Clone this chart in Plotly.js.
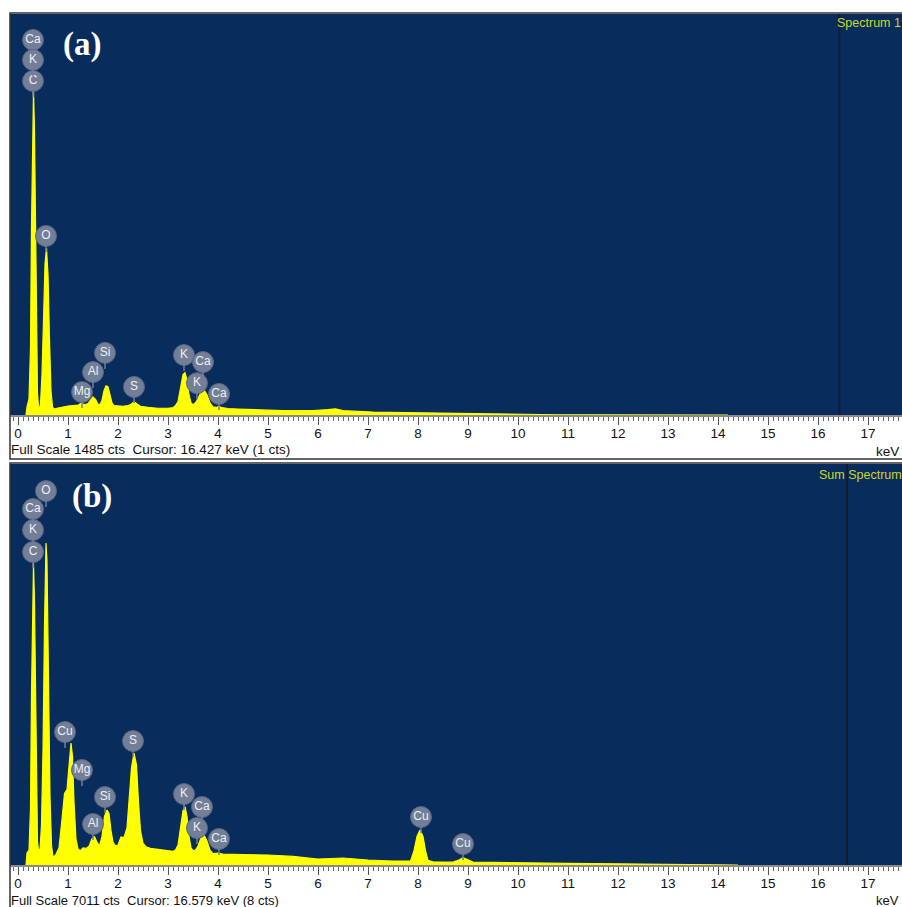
<!DOCTYPE html>
<html><head><meta charset="utf-8">
<script src="https://cdn.plot.ly/plotly-3.0.1.min.js"></script>
<style>html,body{margin:0;padding:0;background:#fff}#chart{width:902px;height:907px}</style>
</head><body><div id="chart"></div>
<script>
// ---------- DATA ----------
const energyA = [
  0.16,0.18,0.22,0.25,0.27,0.29,0.31,0.33,0.35,0.37,
  0.39,0.41,0.43,0.45,0.48,0.51,0.54,0.57,0.60,0.63,
  0.66,0.69,0.72,0.8,0.9,1.0,1.1,1.2,1.27,1.33,
  1.40,1.45,1.50,1.55,1.60,1.64,1.68,1.72,1.76,1.80,
  1.84,1.88,1.92,2.0,2.1,2.2,2.26,2.32,2.38,2.45,
  2.6,2.8,3.0,3.1,3.15,3.20,3.25,3.30,3.34,3.38,
  3.42,3.46,3.50,3.55,3.60,3.66,3.72,3.78,3.84,3.90,
  3.96,4.02,4.08,4.2,4.4,4.6,4.8,5.0,5.3,5.6,
  5.9,6.2,6.35,6.5,6.8,7.1,7.4,7.7,8.0,8.3,
  8.6,8.9,9.2,9.5,9.8,10.2,10.8,11.5,12.5,14,
  14.2];
const countsA = [
  0,30,60,250,700,1100,1203,1050,650,250,
  80,30,25,40,150,350,560,618,520,280,
  90,30,22,26,30,33,35,37,44,38,
  42,55,67,58,40,38,55,90,108,105,
  75,45,35,33,32,35,40,49,40,32,
  28,25,25,27,35,50,100,150,157,130,
  75,45,38,45,60,85,93,75,45,30,
  28,32,27,24,22,20,19,18,16,15,
  16,20,23,16,13,11,10,9,10,8,
  7,6,5,4,3,2,1,0.5,0.3,0.3,
  0];

const energyB = [
  0.16,0.18,0.22,0.25,0.27,0.29,0.31,0.33,0.35,0.37,
  0.39,0.41,0.44,0.47,0.50,0.53,0.56,0.58,0.61,0.64,
  0.67,0.70,0.75,0.82,0.88,0.93,0.98,1.02,1.06,1.09,
  1.12,1.16,1.20,1.25,1.30,1.36,1.42,1.48,1.53,1.58,
  1.63,1.68,1.73,1.78,1.82,1.86,1.90,1.95,2.00,2.06,
  2.12,2.18,2.22,2.27,2.32,2.37,2.41,2.45,2.50,2.56,
  2.65,2.8,3.0,3.1,3.15,3.20,3.25,3.30,3.34,3.38,
  3.42,3.46,3.50,3.55,3.60,3.66,3.72,3.78,3.84,3.90,
  4.0,4.1,4.5,5.0,5.5,6.0,6.5,7.0,7.5,7.85,
  7.92,7.98,8.04,8.10,8.15,8.20,8.3,8.5,8.7,8.8,
  8.9,9.0,9.1,9.5,10,10.5,11,11.5,12,12.5,
  13,13.5,14,14.2,14.4];
const countsB = [
  0,210,260,1000,3000,4800,5280,4600,2800,1100,
  400,270,262,700,2000,4200,5630,5300,3200,1200,
  350,140,170,300,800,1250,1320,1700,2133,1900,
  1100,450,280,250,300,290,330,460,495,400,
  330,500,850,962,900,600,400,330,350,490,
  480,650,1100,1700,1958,1750,1100,600,380,320,
  290,270,250,240,260,350,650,950,1019,850,
  500,300,250,260,330,480,525,420,260,200,
  210,190,180,175,150,105,122,87,70,70,
  250,500,612,500,250,80,55,50,50,80,
  128,90,50,45,35,30,28,25,20,15,
  12,10,8,5,0];

const labelNamesA  = ['Ca','K','C','O','Mg','Al','Si','S','K','Ca','K','Ca'];
const labelEnergyA = [0.30,0.30,0.30,0.56,1.28,1.50,1.74,2.32,3.32,3.70,3.58,4.02];
const labelCountsA = [1389,1315,1237,663,85,159,230,104,222,196,118,78];

const labelNamesB  = ['O','Ca','K','C','Cu','Mg','Al','Si','S','K','Ca','K','Ca','Cu','Cu'];
const labelEnergyB = [0.56,0.30,0.30,0.30,0.94,1.28,1.50,1.74,2.30,3.32,3.68,3.58,4.02,8.06,8.90];
const labelCountsB = [6539,6224,5857,5472,2325,1661,717,1189,2168,1241,1014,647,455,839,367];

const fullScaleA = 1485, cursorA = 16.427, cursorCtsA = 1;
const fullScaleB = 7011, cursorB = 16.579, cursorCtsB = 8;
const spectrumNameA = 'Spectrum 1', spectrumNameB = 'Sum Spectrum';
const panelTagA = '(a)', panelTagB = '(b)';
const tickVals = [0,1,2,3,4,5,6,7,8,9,10,11,12,13,14,15,16,17];

// ---------- LAYOUT HELPERS ----------
const W = 902, H = 907;
const px = p => p / W;
const py = p => 1 - p / H;
const NAVY = '#082c5c', YEL = '#ffff00';
const SANS = 'Liberation Sans, Arial, sans-serif';

function spectrumTrace(x, y, ax) {
  return {x, y, xaxis: 'x' + ax, yaxis: 'y' + ax, type: 'scatter', mode: 'lines',
    fill: 'tozeroy', fillcolor: YEL, line: {color: YEL, width: 1.2}, hoverinfo: 'skip', showlegend: false};
}
function labelTrace(x, y, t, ax) {
  return {x, y, text: t, xaxis: 'x' + ax, yaxis: 'y' + ax, type: 'scatter', mode: 'markers+text',
    textposition: 'middle center', cliponaxis: false,
    textfont: {color: '#eef0f4', size: 12, family: SANS},
    marker: {size: 21, color: '#737e97', line: {color: '#5a6580', width: 1}},
    hoverinfo: 'skip', showlegend: false};
}
function xAxis(anchor) {
  return {domain: [px(10), 1], range: [-0.16, 17.68], anchor, showgrid: false, zeroline: false,
    showline: true, linecolor: '#8a8a8a', linewidth: 2, mirror: false,
    tickmode: 'array', tickvals: tickVals, ticktext: tickVals.map(String),
    ticks: 'outside', ticklen: 8, tickwidth: 1, tickcolor: '#555', ticklabelstandoff: -3,
    minor: {dtick: 0.1, tick0: 0, ticks: 'outside', ticklen: 4, tickcolor: '#666', tickwidth: 1, showgrid: false},
    tickfont: {family: SANS, size: 13.5, color: '#111'}, fixedrange: true};
}
function yAxis(anchor, bottomPx, topPx, full) {
  return {domain: [py(bottomPx), py(topPx)], range: [0, full], anchor, visible: false, fixedrange: true};
}
function stems(en, cts, ax) {
  return en.map((e, i) => ({type: 'line', xref: 'x' + ax, yref: 'y' + ax, ysizemode: 'pixel',
    yanchor: cts[i], x0: e, x1: e, y0: -10, y1: -16, line: {color: '#737e97', width: 1.5}}));
}

const traces = [
  spectrumTrace(energyA, countsA, ''),
  labelTrace(labelEnergyA, labelCountsA, labelNamesA, ''),
  spectrumTrace(energyB, countsB, '2'),
  labelTrace(labelEnergyB, labelCountsB, labelNamesB, '2')
];

const shapes = [
  {type: 'rect', xref: 'paper', yref: 'paper', x0: px(10), x1: px(903), y0: py(459), y1: py(13), line: {color: '#333', width: 1.5}},
  {type: 'rect', xref: 'paper', yref: 'paper', x0: px(10), x1: px(903), y0: py(910), y1: py(463), line: {color: '#333', width: 1.5}},
  {type: 'line', xref: 'x', yref: 'y domain', x0: cursorA, x1: cursorA, y0: 0, y1: 1, line: {color: '#131d36', width: 2}},
  {type: 'line', xref: 'x2', yref: 'y2 domain', x0: cursorB, x1: cursorB, y0: 0, y1: 1, line: {color: '#131d36', width: 2}},
  ...stems(labelEnergyA, labelCountsA, ''),
  ...stems(labelEnergyB, labelCountsB, '2')
];

const ann = (text, xp, yp, opts) => Object.assign({text, xref: 'paper', yref: 'paper', x: px(xp), y: py(yp),
  showarrow: false, xanchor: 'left', yanchor: 'middle', font: {family: SANS, size: 13.5, color: '#111'}}, opts || {});

const SERIF = {family: 'Liberation Serif, Times New Roman, serif', size: 33, color: '#ffffff'};
const SMALL = {family: SANS, size: 13, color: '#111'};
const annotations = [
  ann('<b>' + panelTagA + '</b>', 61, 45, {font: SERIF}),
  ann('<b>' + panelTagB + '</b>', 70, 496, {font: SERIF}),
  ann('Full Scale ' + fullScaleA + ' cts \u00a0Cursor: ' + cursorA + ' keV (' + cursorCtsA + ' cts)', 9, 450),
  ann('Full Scale ' + fullScaleB + ' cts \u00a0Cursor: ' + cursorB + ' keV (' + cursorCtsB + ' cts)', 9, 900, {font: SMALL}),
  ann('keV', 901, 451, {xanchor: 'right'}),
  ann('keV', 901, 900, {xanchor: 'right', font: SMALL}),
  ann(spectrumNameA, 835, 23, {font: {family: SANS, size: 12.5, color: '#c9d82c'}}),
  ann(spectrumNameB, 817, 475, {font: {family: SANS, size: 12.5, color: '#c9d82c'}})
];

const layout = {
  width: W, height: H, margin: {l: 0, r: 0, t: 0, b: 0, pad: 0},
  paper_bgcolor: '#ffffff', plot_bgcolor: NAVY, showlegend: false,
  xaxis: xAxis('y'), yaxis: yAxis('x', 415, 14, fullScaleA),
  xaxis2: xAxis('y2'), yaxis2: yAxis('x2', 865, 464, fullScaleB),
  shapes, annotations
};

Plotly.newPlot('chart', traces, layout, {staticPlot: true, displayModeBar: false});
</script></body></html>
